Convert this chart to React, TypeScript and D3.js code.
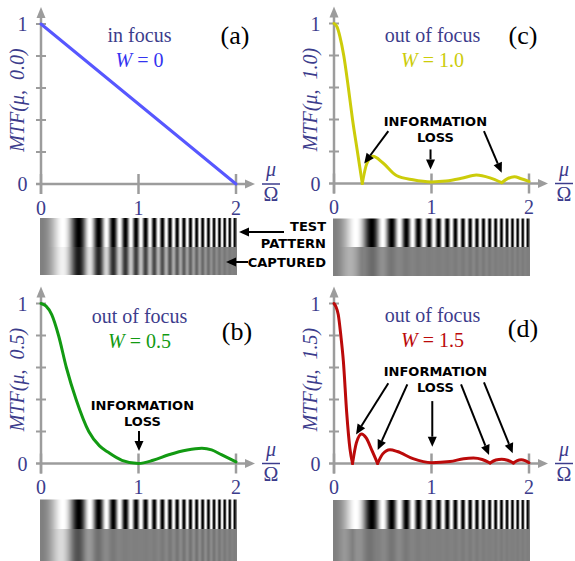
import React from 'react';
import * as d3 from 'd3';

// MTF curves, [mu/Omega, MTF]; each curve is split into
// lobes at the sharp cusps where it touches zero
const lobesA: [number, number][][] = [
  [[0, 1], [2, 0]],
];
const lobesB: [number, number][][] = [
  [[0, 1], [0.05, 0.985], [0.11, 0.93], [0.18, 0.8], [0.26, 0.6], [0.36, 0.4], [0.49, 0.2],
   [0.6, 0.11], [0.69, 0.07], [0.83, 0.02], [1.0, 0.0], [1.15, 0.02], [1.31, 0.055],
   [1.5, 0.085], [1.65, 0.095], [1.75, 0.085], [1.85, 0.055], [2.0, 0.01]],
];
const lobesC: [number, number][][] = [
  [[0, 1], [0.03, 0.98], [0.06, 0.92], [0.1, 0.8], [0.147, 0.6], [0.19, 0.4], [0.24, 0.2], [0.29, 0]],
  [[0.29, 0], [0.334, 0.12], [0.4, 0.17], [0.5, 0.13], [0.64, 0.05], [0.81, 0.023], [1.0, 0.01],
   [1.15, 0.015], [1.32, 0.034], [1.46, 0.053], [1.6, 0.035], [1.72, 0.005]],
  [[1.72, 0.005], [1.78, 0.03], [1.85, 0.042], [1.92, 0.03], [2.0, 0.013]],
];
const lobesD: [number, number][][] = [
  [[0, 1], [0.02, 0.98], [0.044, 0.93], [0.07, 0.8], [0.096, 0.64], [0.13, 0.32], [0.164, 0.09], [0.19, 0]],
  [[0.19, 0], [0.23, 0.13], [0.283, 0.185], [0.33, 0.16], [0.39, 0.08], [0.447, 0]],
  [[0.447, 0], [0.5, 0.06], [0.573, 0.086], [0.65, 0.075], [0.81, 0.03], [1.0, 0.005],
   [1.19, 0.012], [1.33, 0.03], [1.43, 0.034], [1.52, 0.025], [1.6, 0.003]],
  [[1.6, 0.003], [1.66, 0.022], [1.72, 0.027], [1.78, 0.02], [1.84, 0.003]],
  [[1.84, 0.003], [1.88, 0.018], [1.92, 0.023], [1.96, 0.018], [2.0, 0.005]],
];

const xTicks = [0, 1, 2];
const yTicks = [0.2, 0.4, 0.6, 0.8, 1];
const yLabels = [0, 1];

// "INFORMATION LOSS" arrows, tail -> tip in data units
const arrowsB = [[1.005, 0.203, 1.005, 0.078]];
const arrowsC = [[0.557, 0.327, 0.31, 0.125], [0.99, 0.213, 0.99, 0.088], [1.538, 0.327, 1.72, 0.067]];
const arrowsD = [
  [0.557, 0.501, 0.226, 0.182], [0.752, 0.495, 0.448, 0.084], [1.008, 0.39, 1.008, 0.105],
  [1.303, 0.495, 1.59, 0.053], [1.538, 0.507, 1.833, 0.064],
];
// baselines of the two label lines, data units
const infoB = [0.334, 0.234];
const infoC = [0.3625, 0.258];
const infoD = [0.547, 0.449];

// test pattern: sin(CHIRP * mu^2), local frequency grows with mu
const CHIRP = 10 * Math.PI;

const NAVY = '#3c3c8c';
const AXIS = '#9c9c9c';
const SERIF = { fontFamily: '"Liberation Serif", "Times New Roman", serif' };
const SANS = { fontFamily: '"DejaVu Sans", Verdana, sans-serif' };

const panels = [
  { letter: '(a)', title: 'in focus', w: '0', lbl: '0.0', color: '#5757ff', wColor: '#3434f0', lobes: lobesA,
    arrows: [] as number[][], info: null as number[] | null, ox: 41, oy: 184, tY: 42, letY: 44, letX: 235, strip: [218, 247, 275] },
  { letter: '(c)', title: 'out of focus', w: '1.0', lbl: '1.0', color: '#cccc0a', wColor: '#cccc0a', lobes: lobesC,
    arrows: arrowsC, info: infoC, ox: 334, oy: 183.5, tY: 42, letY: 44, letX: 523, strip: [218.5, 247, 276] },
  { letter: '(b)', title: 'out of focus', w: '0.5', lbl: '0.5', color: '#129a12', wColor: '#129a12', lobes: lobesB,
    arrows: arrowsB, info: infoB, ox: 41, oy: 463.5, tY: 323, letY: 340, letX: 237, strip: [499.5, 529, 562] },
  { letter: '(d)', title: 'out of focus', w: '1.5', lbl: '1.5', color: '#bb0a0a', wColor: '#bb0a0a', lobes: lobesD,
    arrows: arrowsD, info: infoD, ox: 334, oy: 463.5, tY: 322, letY: 337, letX: 523, strip: [500, 529, 562] },
];

function mtfAt(lobes: [number, number][][], m: number) {
  const pts = lobes.flat();
  for (let i = 1; i < pts.length; i++) {
    if (m <= pts[i][0]) {
      const [a0, b0] = pts[i - 1], [a1, b1] = pts[i];
      const t = a1 === a0 ? 0 : (m - a0) / (a1 - a0);
      return b0 + (b1 - b0) * t;
    }
  }
  return pts[pts.length - 1][1];
}

function Arrow({ x1, y1, x2, y2 }: { x1: number; y1: number; x2: number; y2: number }) {
  const ang = Math.atan2(y2 - y1, x2 - x1);
  const len = 10, hw = 4.5;
  const bx = x2 - len * Math.cos(ang), by = y2 - len * Math.sin(ang);
  const px = -Math.sin(ang) * hw, py = Math.cos(ang) * hw;
  return (
    <g>
      <line x1={x1} y1={y1} x2={bx} y2={by} stroke="#000" strokeWidth={2} />
      <polygon points={`${x2},${y2} ${bx + px},${by + py} ${bx - px},${by - py}`} fill="#000" />
    </g>
  );
}

function Panel({ p }: { p: typeof panels[number] }) {
  const x = d3.scaleLinear().domain([0, 2]).range([p.ox, p.ox + 195]);
  const y = d3.scaleLinear().domain([0, 1]).range([p.oy, p.oy - 160]);
  const line = d3.line<[number, number]>().x(d => x(d[0])).y(d => y(d[1])).curve(d3.curveMonotoneX);

  const cols = d3.range(Math.floor(x(0)) - 1, Math.ceil(x(2)) + 1);
  const [sTop, sMid, sBot] = p.strip;
  const gray = (v: number) => { const g = Math.round(Math.max(0, Math.min(1, v)) * 255); return `rgb(${g},${g},${g})`; };

  return (
    <g>
      {/* test pattern and captured image */}
      {cols.map(c => {
        const m = Math.max(0, Math.min(2, x.invert(c + 0.5)));
        const s = Math.sin(CHIRP * m * m);
        return (
          <g key={c}>
            <rect x={c} y={sTop} width={1} height={sMid - sTop} fill={gray(0.5 + 0.5 * s)} />
            <rect x={c} y={sMid} width={1} height={sBot - sMid} fill={gray(0.5 + 0.5 * mtfAt(p.lobes, m) * s)} />
          </g>
        );
      })}

      {/* axes */}
      <line x1={x(0)} x2={x(0)} y1={p.oy + 10} y2={y(1) - 10} stroke={AXIS} strokeWidth={2.5} />
      <polygon points={`${x(0)},${y(1) - 17} ${x(0) - 4.5},${y(1) - 6} ${x(0) + 4.5},${y(1) - 6}`} fill={AXIS} />
      <line x1={x(0) - 5} x2={x(2) + 10} y1={y(0)} y2={y(0)} stroke={AXIS} strokeWidth={2.5} />
      <polygon points={`${x(2) + 19},${y(0)} ${x(2) + 9},${y(0) - 4.5} ${x(2) + 9},${y(0) + 4.5}`} fill={AXIS} />
      {xTicks.map(t => (
        <g key={t}>
          <line x1={x(t)} x2={x(t)} y1={y(0) - 10} y2={y(0) + 10} stroke={AXIS} strokeWidth={2.5} />
          <text x={x(t)} y={p.oy + 30.5} textAnchor="middle" fill={NAVY} style={SERIF} fontSize={20}>{t}</text>
        </g>
      ))}
      {yTicks.map(t => (
        <line key={t} x1={x(0) - 5} x2={x(0) + 5} y1={y(t)} y2={y(t)} stroke={AXIS} strokeWidth={2} />
      ))}
      {yLabels.map(t => (
        <text key={t} x={x(0) - 18.5} y={y(t) + 7} textAnchor="middle" fill={NAVY} style={SERIF} fontSize={20}>{t}</text>
      ))}

      {/* mu / Omega */}
      <text x={x(2) + 35} y={y(0) - 8} textAnchor="middle" fill={NAVY} style={SERIF} fontSize={20} fontStyle="italic">μ</text>
      <line x1={x(2) + 26} x2={x(2) + 44} y1={y(0)} y2={y(0)} stroke={NAVY} strokeWidth={1.5} />
      <text x={x(2) + 35} y={y(0) + 17} textAnchor="middle" fill={NAVY} style={SERIF} fontSize={20}>Ω</text>

      {/* y label */}
      <text transform={`translate(${p.ox - 17},${p.oy - 84}) rotate(-90)`} textAnchor="middle" fill={NAVY}
        style={SERIF} fontSize={20} fontStyle="italic">{`MTF(μ,\u00a0 ${p.lbl})`}</text>

      {/* curve */}
      {p.lobes.map((l, i) => (
        <path key={i} d={line(l) ?? ''} fill="none" stroke={p.color} strokeWidth={3} strokeLinecap="round" strokeLinejoin="round" />
      ))}

      {/* titles */}
      <text x={x(1) + 1} y={p.tY} textAnchor="middle" fill={NAVY} style={SERIF} fontSize={20}>{p.title}</text>
      <text x={x(1) + 1} y={p.tY + 25} textAnchor="middle" fill={p.wColor} style={SERIF} fontSize={20}>
        <tspan fontStyle="italic">W</tspan> = {p.w}
      </text>
      <text x={p.letX} y={p.letY} textAnchor="middle" fill="#000" style={SERIF} fontSize={26}>{p.letter}</text>

      {/* information loss */}
      {p.info && (
        <g style={SANS} fontWeight="bold" fontSize={13} textAnchor="middle" fill="#000">
          <text x={x(1.04)} y={y(p.info[0])}>INFORMATION</text>
          <text x={x(1.04)} y={y(p.info[1])}>LOSS</text>
        </g>
      )}
      {p.arrows.map((a, i) => (
        <Arrow key={i} x1={x(a[0])} y1={y(a[1])} x2={x(a[2])} y2={y(a[3])} />
      ))}
    </g>
  );
}

export default function App() {
  return (
    <svg width={575} height={561} style={{ position: 'absolute', left: 0, top: 0, background: '#fff' }}>
      <rect width={575} height={561} fill="#fff" />
      {panels.map(p => <Panel key={p.letter} p={p} />)}
      {/* side labels for panel (a) */}
      <g style={SANS} fontWeight="bold" fontSize={13} textAnchor="end" fill="#000">
        <text x={326} y={231}>TEST</text>
        <text x={326} y={248}>PATTERN</text>
        <text x={326} y={267}>CAPTURED</text>
      </g>
      <Arrow x1={284} y1={232} x2={239} y2={232} />
      <Arrow x1={248} y1={262} x2={226} y2={262} />
    </svg>
  );
}
